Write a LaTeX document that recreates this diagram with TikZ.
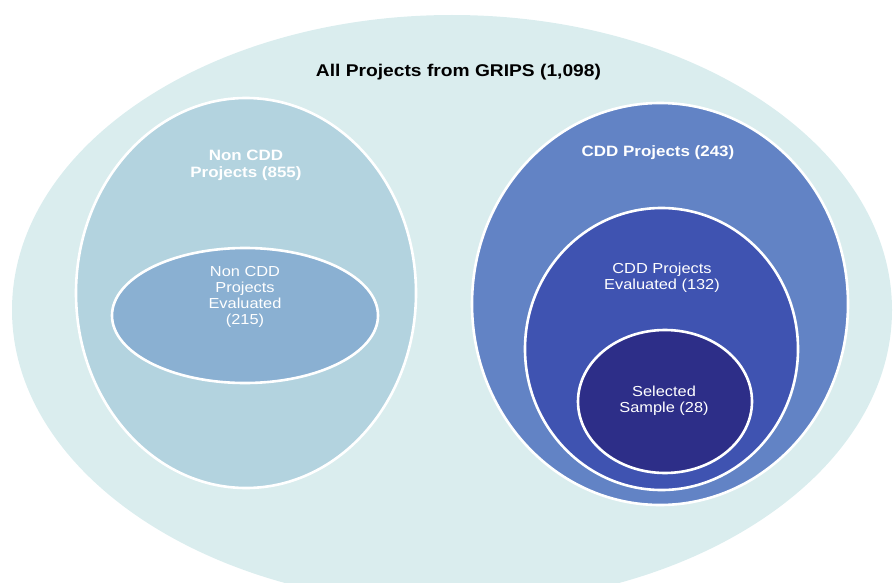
\documentclass[tikz,border=0pt]{standalone}
\usepackage{fontspec}
\setmainfont[FakeStretch=1.13]{Liberation Sans}
\usepackage{tikz}
\usetikzlibrary{shapes.geometric,positioning}
\definecolor{allfill}{HTML}{DAEDEE}
\definecolor{noncddfill}{HTML}{B3D3DF}
\definecolor{noncddeval}{HTML}{8AB0D2}
\definecolor{cddfill}{HTML}{6283C5}
\definecolor{cddeval}{HTML}{3F53B1}
\definecolor{samplefill}{HTML}{2D2E88}

\begin{document}
\begin{tikzpicture}[x=1pt, y=-1pt,
    set/.style={draw=white, line width=2.6pt, ellipse, inner sep=0pt},
    headtext/.style={text=white, align=center, font=\bfseries\fontsize{15}{17}\selectfont},
    subtext/.style={text=white, align=center, font=\fontsize{14.5}{16}\selectfont}]
    \useasboundingbox (0,0) rectangle (894,583);
    \clip (0,0) rectangle (894,583);

    \node[set, draw=none, fill=allfill, minimum width=880pt, minimum height=590pt] (all) at (452,310) {};

    \node[set, fill=noncddfill, minimum width=340pt, minimum height=390pt] (noncdd) at (246,293) {};
    \node[set, fill=noncddeval, minimum width=266pt, minimum height=135pt] (noncddeval) at (245,315.5) {};

    \node[set, fill=cddfill, minimum width=376pt, minimum height=402pt] (cdd) at (660,304) {};
    \node[set, fill=cddeval, minimum width=273pt, minimum height=282pt] (cddeval) at (661.5,349) {};
    \node[set, fill=samplefill, minimum width=174pt, minimum height=143pt] (sample) at (665,401.5) {};

    \node[font=\bfseries\fontsize{17}{19}\selectfont] (alllabel) at (458.5,72) {All Projects from GRIPS (1,098)};
    \node[headtext] (noncddlabel) at (246,165) {Non CDD\\Projects (855)};
    \node[subtext] (noncddevallabel) at (245,297) {Non CDD\\Projects\\Evaluated\\(215)};
    \node[headtext] (cddlabel) at (658,153) {CDD Projects (243)};
    \node[subtext] (cddevallabel) at (662,278) {CDD Projects\\Evaluated (132)};
    \node[subtext] (samplelabel) at (664,401) {Selected\\Sample (28)};
\end{tikzpicture}
\end{document}
